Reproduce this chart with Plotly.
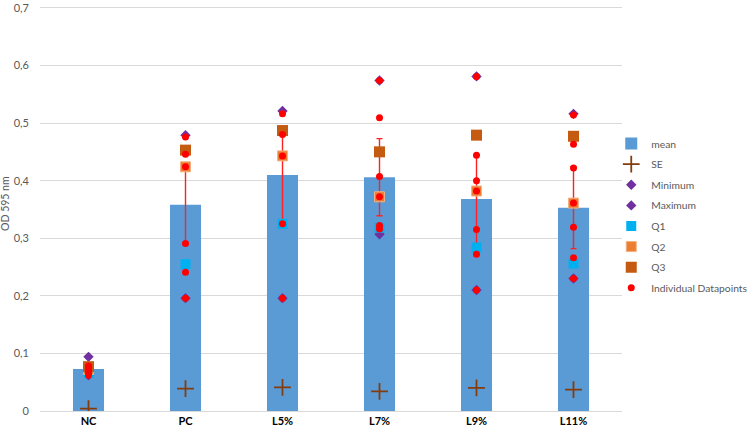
import plotly.graph_objects as go

categories = ["NC", "PC", "L5%", "L7%", "L9%", "L11%"]
mean = [0.073, 0.358, 0.410, 0.406, 0.368, 0.353]
err = [0.008, 0.068, 0.080, 0.067, 0.077, 0.071]
se = [0.004, 0.039, 0.041, 0.034, 0.040, 0.037]
minimum = [0.062, 0.196, 0.196, 0.307, 0.210, 0.230]
maximum = [0.094, 0.479, 0.521, 0.574, 0.581, 0.516]
q1 = [0.066, 0.255, 0.325, 0.318, 0.284, 0.256]
q2 = [0.072, 0.424, 0.443, 0.372, 0.382, 0.361]
q3 = [0.077, 0.453, 0.487, 0.450, 0.479, 0.477]
points_nc = [0.078, 0.074, 0.070, 0.066, 0.062]
points_pc = [0.476, 0.446, 0.424, 0.291, 0.241, 0.196]
points_l5 = [0.516, 0.480, 0.443, 0.325, 0.196]
points_l7 = [0.574, 0.509, 0.407, 0.372, 0.322, 0.316]
points_l9 = [0.581, 0.444, 0.400, 0.382, 0.315, 0.272, 0.210]
points_l11 = [0.514, 0.463, 0.422, 0.361, 0.319, 0.266, 0.230]
y_ticks = [0, 0.1, 0.2, 0.3, 0.4, 0.5, 0.6, 0.7]

groups = [points_nc, points_pc, points_l5, points_l7, points_l9, points_l11]
px, py = [], []
for c, pts in zip(categories, groups):
    for v in pts:
        px.append(c)
        py.append(v)

FONT = "Lato"
fig = go.Figure()
fig.add_trace(go.Bar(
    x=categories, y=mean, name="mean", legendgroup="g1",
    marker=dict(color="#5B9BD5", line=dict(width=0)),
    error_y=dict(type="data", array=err, color="#FF2222", thickness=1.4, width=3),
))
fig.add_trace(go.Scatter(
    x=categories, y=se, mode="markers", name="SE", legendgroup="g2",
    marker=dict(symbol="cross-thin", size=12, color="#843C0C",
                line=dict(color="#843C0C", width=1.8)),
))
fig.add_trace(go.Scatter(
    x=categories, y=minimum, mode="markers", name="Minimum", legendgroup="g3",
    marker=dict(symbol="diamond", size=8, color="#7030A0"),
))
fig.add_trace(go.Scatter(
    x=categories, y=maximum, mode="markers", name="Maximum", legendgroup="g4",
    marker=dict(symbol="diamond", size=8, color="#7030A0"),
))
fig.add_trace(go.Scatter(
    x=categories, y=q1, mode="markers", name="Q1", legendgroup="g5",
    marker=dict(symbol="square", size=10, color="#00B0F0"),
))
fig.add_trace(go.Scatter(
    x=categories, y=q2, mode="markers", name="Q2", legendgroup="g6",
    marker=dict(symbol="square", size=10, color="#ED7D31",
                line=dict(color="#F4B183", width=1)),
))
fig.add_trace(go.Scatter(
    x=categories, y=q3, mode="markers", name="Q3", legendgroup="g7",
    marker=dict(symbol="square", size=11, color="#C55A11"),
))
fig.add_trace(go.Scatter(
    x=px, y=py, mode="markers", name="Individual Datapoints", legendgroup="g8",
    marker=dict(symbol="circle", size=7, color="#FF0000"),
))

fig.update_layout(
    width=750, height=426,
    margin=dict(l=40, r=128, t=5, b=15, autoexpand=False),
    paper_bgcolor="white", plot_bgcolor="white",
    separators=", ",
    font=dict(family=FONT, size=11, color="#595959"),
    bargap=0.68,
    showlegend=True,
    legend=dict(xref="container", yref="container", x=0.815, y=0.697,
                xanchor="left", yanchor="top", traceorder="grouped",
                tracegroupgap=1.6,
                font=dict(family=FONT, size=10.3, color="#595959"),
                bgcolor="rgba(0,0,0,0)", itemwidth=30),
    annotations=[dict(text="OD 595 nm", textangle=-90, xref="paper", yref="paper",
                      x=0, y=0.51, xshift=-35, xanchor="center", yanchor="middle",
                      showarrow=False,
                      font=dict(family=FONT, size=10.5, color="#595959"))],
)
fig.update_yaxes(range=[0, 0.705], tickvals=y_ticks, showgrid=True, gridcolor="#D9D9D9",
                 gridwidth=1, zeroline=False, showline=False, automargin=False,
                 tickfont=dict(family=FONT, size=11, color="#595959"),
                 ticks="", ticklabelstandoff=10, ticklabeloverflow="allow")
fig.update_xaxes(showgrid=False, showline=True, linecolor="#D9D9D9", linewidth=1,
                 ticks="", automargin=False,
                 tickfont=dict(family=FONT, size=11, color="#000000", weight="bold"))

fig.write_html("out.html")
